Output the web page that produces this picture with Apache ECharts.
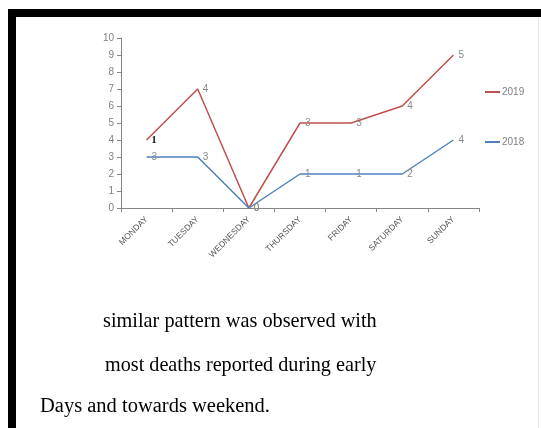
<!DOCTYPE html>
<html>
<head>
<meta charset="utf-8">
<script src="https://cdn.jsdelivr.net/npm/echarts@6/dist/echarts.min.js"></script>
<style>
html,body{margin:0;padding:0;background:#fff;}
#chart{width:541px;height:428px;}
</style>
</head>
<body>
<div id="chart"></div>
<script>
var days = ['MONDAY','TUESDAY','WEDNESDAY','THURSDAY','FRIDAY','SATURDAY','SUNDAY'];
var values2019 = [4, 7, 0, 5, 5, 6, 9];
var values2018 = [3, 3, 0, 2, 2, 2, 4];
var labels2019 = ['1', '4', '0', '3', '3', '4', '5'];
var labels2018 = ['3', '3', '0', '1', '1', '2', '4'];
var yTicks = [0, 1, 2, 3, 4, 5, 6, 7, 8, 9, 10];
var captionLines = ['similar pattern was observed with', 'most deaths reported during early', 'Days and towards weekend.'];

var chart = echarts.init(document.getElementById('chart'), null, {renderer: 'canvas'});
var gray = '#7f7f7f';
var sans = 'Liberation Sans, Arial, sans-serif';

function series(name, vals, labs, color, firstBold) {
  return {
    name: name,
    type: 'line',
    data: vals.map(function (v, i) {
      var d = {value: v};
      if (firstBold && i === 0) {
        d.label = {color: '#000', fontWeight: 'bold', fontFamily: 'Liberation Serif, serif', fontSize: 10};
      }
      return d;
    }),
    symbol: 'circle',
    symbolSize: 0,
    showSymbol: true,
    lineStyle: {color: color, width: 1.5},
    itemStyle: {color: color},
    label: {
      show: true,
      position: 'right',
      distance: 5,
      offset: [0, 1],
      color: '#8a8a8a',
      fontSize: 10,
      fontFamily: sans,
      formatter: function (p) { return labs[p.dataIndex]; }
    },
    labelLayout: {hideOverlap: false},
    emphasis: {disabled: true},
    animation: false
  };
}

chart.setOption({
  backgroundColor: '#fff',
  animation: false,
  grid: {left: 121, right: 62, top: 38, bottom: 220},
  legend: {
    orient: 'vertical',
    left: 485,
    top: 87,
    padding: 0,
    itemGap: 40,
    itemWidth: 15,
    itemHeight: 2,
    icon: 'rect',
    textStyle: {color: gray, fontSize: 10, padding: [0, 0, 0, -3], fontFamily: sans},
    data: ['2019', '2018']
  },
  xAxis: {
    type: 'category',
    data: days,
    boundaryGap: true,
    axisLine: {lineStyle: {color: '#868686'}},
    axisTick: {show: true, alignWithLabel: false, length: 4, lineStyle: {color: '#868686'}},
    axisLabel: {rotate: 45, fontSize: 8.5, color: '#555', margin: 10, interval: 0, fontFamily: sans},
    splitLine: {show: false}
  },
  yAxis: {
    type: 'value',
    min: yTicks[0],
    max: yTicks[yTicks.length - 1],
    interval: 1,
    axisLine: {show: true, lineStyle: {color: '#868686'}},
    axisTick: {show: true, length: 4, lineStyle: {color: '#868686'}},
    axisLabel: {fontSize: 10, color: gray, margin: 7, fontFamily: sans},
    splitLine: {show: false}
  },
  series: [
    series('2019', values2019, labels2019, '#c0504d', true),
    series('2018', values2018, labels2018, '#4f81bd', false)
  ],
  graphic: [
    {type: 'rect', shape: {x: 8, y: 9, width: 533, height: 8}, style: {fill: '#000'}, silent: true},
    {type: 'rect', shape: {x: 8, y: 9, width: 8, height: 419}, style: {fill: '#000'}, silent: true},
    {type: 'rect', shape: {x: 538, y: 17, width: 1, height: 411}, style: {fill: '#e6e6e6'}, silent: true},
    {type: 'text', left: 103, top: 312, style: {text: captionLines[0], fill: '#000', font: '20.3px "Liberation Serif", "Times New Roman", serif'}},
    {type: 'text', left: 105, top: 356, style: {text: captionLines[1], fill: '#000', font: '20.2px "Liberation Serif", "Times New Roman", serif'}},
    {type: 'text', left: 40, top: 396, style: {text: captionLines[2], fill: '#000', font: '20.5px "Liberation Serif", "Times New Roman", serif'}}
  ]
});
</script>
</body>
</html>
